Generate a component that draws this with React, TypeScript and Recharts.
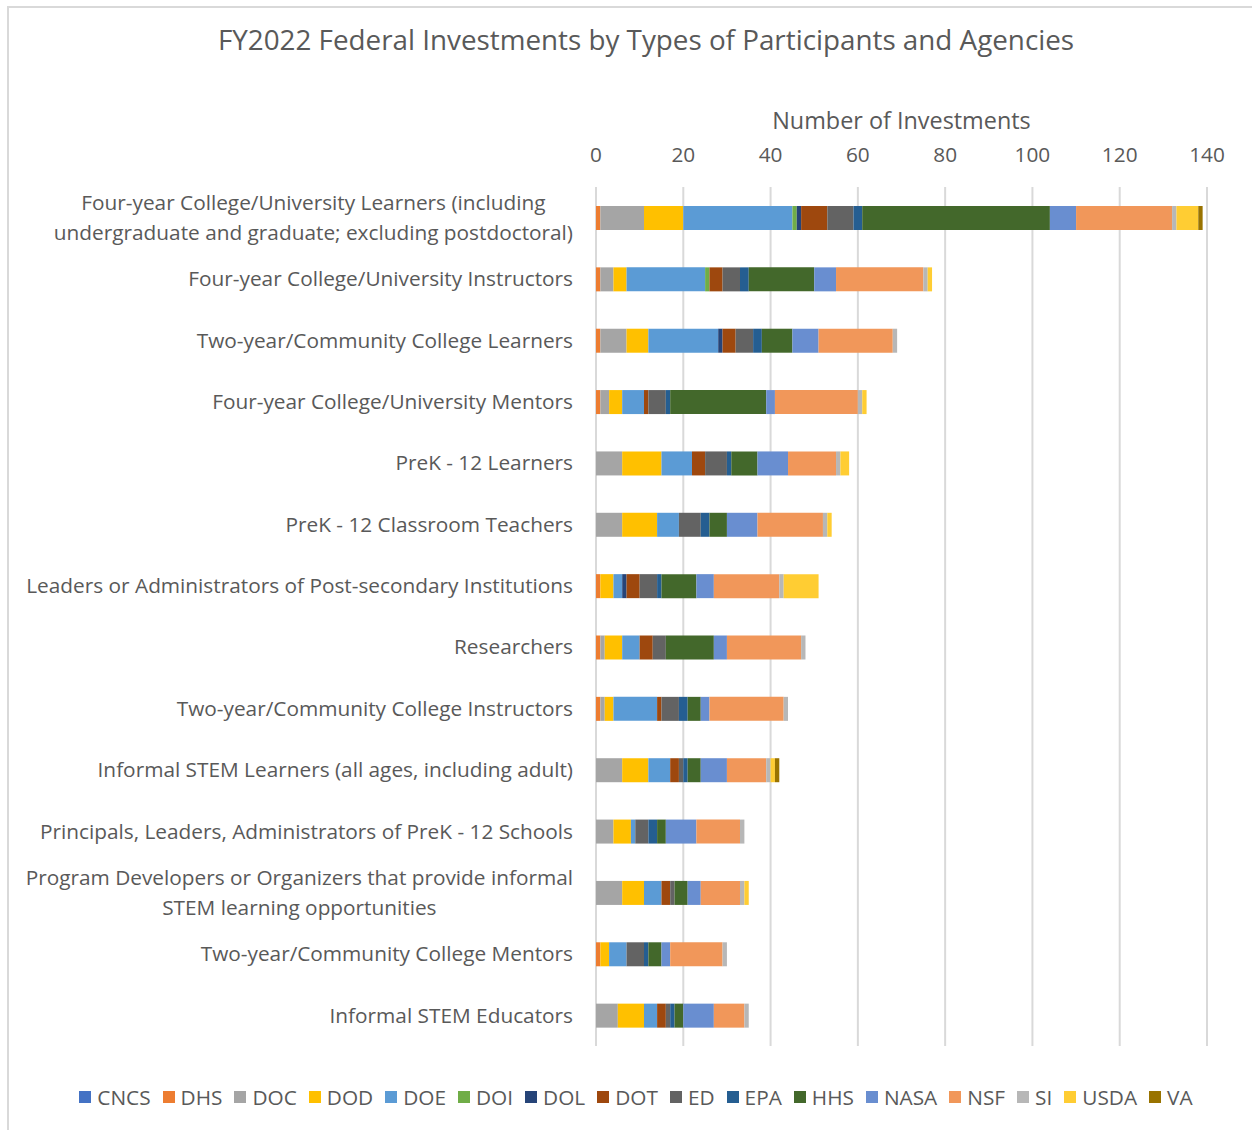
import React from "react";
import { BarChart, Bar, XAxis, YAxis, CartesianGrid } from "recharts";

const categories = [
  "Four-year College/University Learners (including\nundergraduate and graduate; excluding postdoctoral)",
  "Four-year College/University Instructors",
  "Two-year/Community College Learners",
  "Four-year College/University Mentors",
  "PreK - 12 Learners",
  "PreK - 12 Classroom Teachers",
  "Leaders or Administrators of Post-secondary Institutions",
  "Researchers",
  "Two-year/Community College Instructors",
  "Informal STEM Learners (all ages, including adult)",
  "Principals, Leaders, Administrators of PreK - 12 Schools",
  "Program Developers or Organizers that provide informal\nSTEM learning opportunities",
  "Two-year/Community College Mentors",
  "Informal STEM Educators",
];

const agencies = ["CNCS", "DHS", "DOC", "DOD", "DOE", "DOI", "DOL", "DOT", "ED", "EPA", "HHS", "NASA", "NSF", "SI", "USDA", "VA"];

const CNCS = [0, 0, 0, 0, 0, 0, 0, 0, 0, 0, 0, 0, 0, 0];
const DHS = [1, 1, 1, 1, 0, 0, 1, 1, 1, 0, 0, 0, 1, 0];
const DOC = [10, 3, 6, 2, 6, 6, 0, 1, 1, 6, 4, 6, 0, 5];
const DOD = [9, 3, 5, 3, 9, 8, 3, 4, 2, 6, 4, 5, 2, 6];
const DOE = [25, 18, 16, 5, 7, 5, 2, 4, 10, 5, 1, 4, 4, 3];
const DOI = [1, 1, 0, 0, 0, 0, 0, 0, 0, 0, 0, 0, 0, 0];
const DOL = [1, 0, 1, 0, 0, 0, 1, 0, 0, 0, 0, 0, 0, 0];
const DOT = [6, 3, 3, 1, 3, 0, 3, 3, 1, 2, 0, 2, 0, 2];
const ED = [6, 4, 4, 4, 5, 5, 4, 3, 4, 1, 3, 1, 4, 1];
const EPA = [2, 2, 2, 1, 1, 2, 1, 0, 2, 1, 2, 0, 1, 1];
const HHS = [43, 15, 7, 22, 6, 4, 8, 11, 3, 3, 2, 3, 3, 2];
const NASA = [6, 5, 6, 2, 7, 7, 4, 3, 2, 6, 7, 3, 2, 7];
const NSF = [22, 20, 17, 19, 11, 15, 15, 17, 17, 9, 10, 9, 12, 7];
const SI = [1, 1, 1, 1, 1, 1, 1, 1, 1, 1, 1, 1, 1, 1];
const USDA = [5, 1, 0, 1, 2, 1, 8, 0, 0, 1, 0, 1, 0, 0];
const VA = [1, 0, 0, 0, 0, 0, 0, 0, 0, 1, 0, 0, 0, 0];

const xTicks = [0, 20, 40, 60, 80, 100, 120, 140];

const series: Record<string, number[]> = { CNCS, DHS, DOC, DOD, DOE, DOI, DOL, DOT, ED, EPA, HHS, NASA, NSF, SI, USDA, VA };

const colors: Record<string, string> = {
  CNCS: "#4472C4",
  DHS: "#ED7D31",
  DOC: "#A5A5A5",
  DOD: "#FFC000",
  DOE: "#5B9BD5",
  DOI: "#70AD47",
  DOL: "#264478",
  DOT: "#9E480E",
  ED: "#636363",
  EPA: "#255E91",
  HHS: "#43682B",
  NASA: "#698ED0",
  NSF: "#F1975A",
  SI: "#B7B7B7",
  USDA: "#FFCD33",
  VA: "#997300",
};

const data = categories.map((name, i) => {
  const row: any = { name };
  agencies.forEach((a) => (row[a] = series[a][i]));
  return row;
});

const FONT = "'Open Sans', sans-serif";
const TEXT = "#595959";
const LABEL_SIZE = 20.8;

let ctx: CanvasRenderingContext2D | null = null;
function measure(s: string) {
  if (!ctx) ctx = document.createElement("canvas").getContext("2d");
  if (!ctx) return s.length * 9.8;
  ctx.font = `${LABEL_SIZE}px 'Open Sans'`;
  return ctx.measureText(s).width;
}

function CategoryTick({ x, y, payload }: any) {
  const lines = String(payload.value).split("\n");
  const w = Math.max(...lines.map(measure));
  const lh = 30;
  return (
    <g>
      {lines.map((l, i) => (
        <text
          key={i}
          x={x - w / 2}
          y={y + (i - (lines.length - 1) / 2) * lh}
          dy="0.35em"
          textAnchor="middle"
          fill={TEXT}
          fontSize={LABEL_SIZE}
          fontFamily={FONT}
        >
          {l}
        </text>
      ))}
    </g>
  );
}

export default function App() {
  return (
    <div style={{ position: "relative", width: 1252, height: 1130, overflow: "hidden", fontFamily: FONT }}>
      <style>{`body{margin:0;overflow:hidden}`}</style>
      <div
        style={{
          position: "absolute",
          left: 7,
          top: 6,
          width: 1280,
          height: 1160,
          border: "2px solid #D9D9D9",
        }}
      />
      <div
        style={{
          position: "absolute",
          left: 20,
          top: 20,
          width: 1252,
          textAlign: "center",
          fontSize: 27.8,
          color: TEXT,
        }}
      >
        FY2022 Federal Investments by Types of Participants and Agencies
      </div>
      <div style={{ position: "absolute", left: 0, top: 0 }}>
        <BarChart
          width={1252}
          height={1130}
          data={data}
          layout="vertical"
          margin={{ top: 107, right: 45, bottom: 84, left: 0 }}
        >
          <CartesianGrid horizontal={false} stroke="#D9D9D9" strokeWidth={2} />
          <XAxis
            type="number"
            orientation="top"
            domain={[0, 140]}
            ticks={xTicks}
            height={80}
            axisLine={false}
            tickLine={false}
            tickSize={0}
            tickMargin={25}
            tick={{ fill: TEXT, fontSize: LABEL_SIZE, fontFamily: FONT }}
            label={{
              value: "Number of Investments",
              position: "insideTop",
              offset: 5,
              fill: TEXT,
              fontSize: 23.4,
              fontFamily: FONT,
            }}
          />
          <YAxis
            type="category"
            dataKey="name"
            width={596}
            axisLine={false}
            tickLine={false}
            tickSize={0}
            tickMargin={23}
            interval={0}
            tick={<CategoryTick />}
          />
          {agencies.map((a) => (
            <Bar key={a} dataKey={a} stackId="a" fill={colors[a]} barSize={24} isAnimationActive={false} />
          ))}
        </BarChart>
      </div>
      <div
        style={{
          position: "absolute",
          left: 10,
          top: 1083,
          width: 1252,
          display: "flex",
          justifyContent: "center",
          gap: 12,
          fontSize: LABEL_SIZE,
          color: TEXT,
        }}
      >
        {agencies.map((a) => (
          <div key={a} style={{ display: "flex", alignItems: "center" }}>
            <span style={{ width: 12, height: 12, background: colors[a], marginRight: 6, display: "inline-block" }} />
            <span>{a}</span>
          </div>
        ))}
      </div>
    </div>
  );
}
